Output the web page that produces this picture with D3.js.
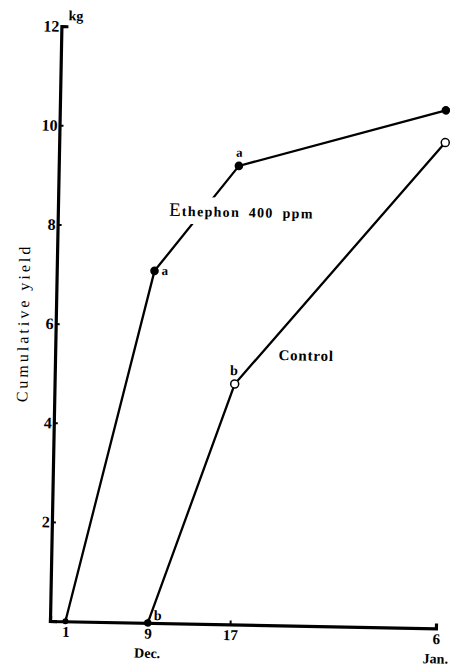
<!DOCTYPE html>
<html>
<head>
<meta charset="utf-8">
<script src="https://cdn.jsdelivr.net/npm/d3@7"></script>
<style>
body { margin: 0; background: #fff; }
text { font-family: "Liberation Serif", "DejaVu Serif", serif; fill: #000; }
</style>
</head>
<body>
<div id="chart"></div>
<script>
// days counted from Dec. 1
var dayTicks = [0, 8, 16, 36];
var dayLabels = ["1", "9", "17", "6"];
var monthDays = [8, 36];
var monthLabels = ["Dec.", "Jan."];
var yTicks = [2, 4, 6, 8, 10, 12];

var ethDays = [0, 8, 16, 36];
var ethYield = [0, 7.1, 9.25, 10.45];
var ethLetters = ["", "a", "a", ""];

var ctlDays = [8, 16, 36];
var ctlYield = [0, 4.85, 9.8];
var ctlLetters = ["b", "b", ""];

var width = 450, height = 669;
var originX = 50, originY = 621;
var plotW = 386, plotH = 595;
var tilt = 1.1;

var svg = d3.select("#chart").append("svg")
    .attr("width", width)
    .attr("height", height);

var g = svg.append("g")
    .attr("transform", "rotate(" + tilt + "," + originX + "," + originY + ")");

var x = d3.scaleLinear().domain([-1.5, 36]).range([originX, originX + plotW]);
var y = d3.scaleLinear().domain([0, 12]).range([originY, originY - plotH]);

// y axis
var yAxis = g.append("g")
    .attr("transform", "translate(" + originX + ",0)")
    .call(d3.axisLeft(y).tickValues(yTicks).tickSizeInner(-4).tickSizeOuter(-7).tickPadding(2));
yAxis.select(".domain").attr("stroke-width", 3.2);
yAxis.selectAll(".tick line").attr("stroke-width", 2);
yAxis.selectAll(".tick text")
    .style("font-family", "Liberation Serif")
    .style("font-weight", "bold")
    .style("font-size", "16px");

// x axis
var xAxis = g.append("g")
    .attr("transform", "translate(0," + originY + ")")
    .call(d3.axisBottom(x).tickValues(dayTicks)
        .tickFormat(function (d, i) { return dayLabels[i]; })
        .tickSizeInner(-4).tickSizeOuter(-5).tickPadding(5));
xAxis.select(".domain").attr("stroke-width", 3.2);
xAxis.selectAll(".tick line").attr("stroke-width", 2);
xAxis.selectAll(".tick text")
    .style("font-family", "Liberation Serif")
    .style("font-weight", "bold")
    .style("font-size", "15px");

g.selectAll(".month")
    .data(monthDays)
    .enter()
    .append("text")
    .attr("class", "month")
    .attr("x", function (d) { return x(d); })
    .attr("y", originY + 35)
    .attr("text-anchor", "middle")
    .style("font-weight", "bold")
    .style("font-size", "14px")
    .text(function (d, i) { return monthLabels[i]; });

g.append("text")
    .attr("x", originX + 7)
    .attr("y", originY - plotH - 6)
    .style("font-weight", "bold")
    .style("font-size", "14px")
    .text("kg");

g.append("text")
    .attr("transform", "translate(" + (originX - 27) + "," + y(6.0) + ") rotate(-90)")
    .attr("text-anchor", "middle")
    .style("font-size", "16px")
    .style("letter-spacing", "3px")
    .text("Cumulative yield");

var line = d3.line()
    .x(function (d) { return x(d[0]); })
    .y(function (d) { return y(d[1]); });

var ethPts = ethDays.map(function (d, i) { return [d, ethYield[i], ethLetters[i]]; });
var ctlPts = ctlDays.map(function (d, i) { return [d, ctlYield[i], ctlLetters[i]]; });

g.append("path").datum(ethPts)
    .attr("d", line).attr("fill", "none")
    .attr("stroke", "#000").attr("stroke-width", 2.3);
g.append("path").datum(ctlPts)
    .attr("d", line).attr("fill", "none")
    .attr("stroke", "#000").attr("stroke-width", 2.3);

g.selectAll(".ethDot")
    .data(ethPts)
    .enter()
    .append("circle")
    .attr("class", "ethDot")
    .attr("cx", function (d) { return x(d[0]); })
    .attr("cy", function (d) { return y(d[1]); })
    .attr("r", function (d) { return d[1] === 0 ? 3 : 4.3; })
    .attr("fill", "#000");

g.selectAll(".ctlDot")
    .data(ctlPts)
    .enter()
    .append("circle")
    .attr("class", "ctlDot")
    .attr("cx", function (d) { return x(d[0]); })
    .attr("cy", function (d) { return y(d[1]); })
    .attr("r", function (d) { return d[1] === 0 ? 3 : 4; })
    .attr("fill", function (d) { return d[1] === 0 ? "#000" : "#fff"; })
    .attr("stroke", "#000")
    .attr("stroke-width", 1.5);

// significance letters
function letterPos(i, series) {
    if (series === "eth" && i === 1) return [7, 4];
    if (series === "eth" && i === 2) return [-3, -9];
    if (series === "ctl" && i === 0) return [6, -3];
    return [-5, -9];
}

g.selectAll(".ethLetter")
    .data(ethPts.filter(function (d) { return d[2] !== ""; }))
    .enter()
    .append("text")
    .attr("x", function (d) { return x(d[0]) + letterPos(ethPts.indexOf(d), "eth")[0]; })
    .attr("y", function (d) { return y(d[1]) + letterPos(ethPts.indexOf(d), "eth")[1]; })
    .style("font-weight", "bold")
    .style("font-size", "13px")
    .text(function (d) { return d[2]; });

g.selectAll(".ctlLetter")
    .data(ctlPts.filter(function (d) { return d[2] !== ""; }))
    .enter()
    .append("text")
    .attr("x", function (d) { return x(d[0]) + letterPos(ctlPts.indexOf(d), "ctl")[0]; })
    .attr("y", function (d) { return y(d[1]) + letterPos(ctlPts.indexOf(d), "ctl")[1]; })
    .style("font-weight", "bold")
    .style("font-size", "14px")
    .text(function (d) { return d[2]; });

// series labels (Ethephon label breaks the line behind it)
var ethBg = g.append("rect").attr("fill", "#fff");
var ethLabel = g.append("text")
    .attr("x", x(9.3))
    .attr("y", y(8.22))
    .style("font-size", "14px")
    .style("font-weight", "bold")
    .style("letter-spacing", "1.3px")
    .style("word-spacing", "4px");
ethLabel.append("tspan").style("font-size", "19px").style("font-weight", "normal").text("E");
ethLabel.append("tspan").text("thephon 400 ppm");
var bb = ethLabel.node().getBBox();
ethBg.attr("x", bb.x - 2).attr("y", bb.y - 2)
    .attr("width", bb.width + 4).attr("height", bb.height + 6);

g.append("text")
    .attr("x", x(20.2))
    .attr("y", y(5.35))
    .style("font-size", "15px")
    .style("font-weight", "bold")
    .style("letter-spacing", "0.8px")
    .text("Control");
</script>
</body>
</html>
